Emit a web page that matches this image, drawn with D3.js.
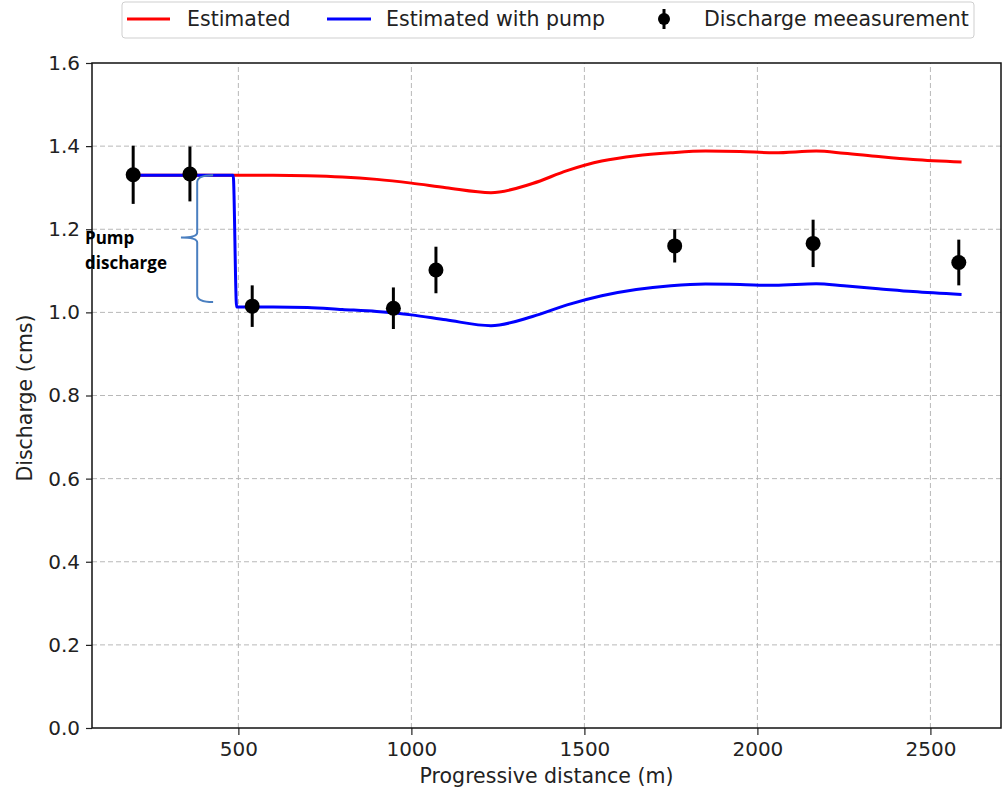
<!DOCTYPE html>
<html>
<head>
<meta charset="utf-8">
<script src="https://cdn.jsdelivr.net/npm/d3@7"></script>
<style>
  body { margin: 0; background: #fff; }
  text { font-family: "DejaVu Sans", sans-serif; fill: #222; }
</style>
</head>
<body>
<div id="chart"></div>
<script>
var width = 1006,
    height = 794,
    margin = { top: 63, right: 5, bottom: 66, left: 92 };

// measured discharge points
var ptDist = [196, 360, 540, 948, 1071, 1761, 2161, 2582];
var ptQ = [1.331, 1.333, 1.015, 1.010, 1.102, 1.160, 1.166, 1.120];
var ptErr = [0.070, 0.066, 0.050, 0.050, 0.056, 0.040, 0.057, 0.055];

// estimated discharge
var estDist = [196, 300, 400, 500, 600, 700, 800, 900, 1000, 1100, 1230, 1350, 1450, 1550, 1650, 1750, 1850, 1950, 2050, 2170, 2250, 2350, 2450, 2590];
var estQ = [1.330, 1.330, 1.330, 1.330, 1.330, 1.329, 1.326, 1.320, 1.311, 1.300, 1.288, 1.310, 1.341, 1.364, 1.377, 1.384, 1.388, 1.387, 1.384, 1.388, 1.383, 1.375, 1.368, 1.362];

// estimated with pump
var pumpDist = [196, 485, 495, 600, 700, 800, 900, 1000, 1100, 1230, 1350, 1450, 1550, 1650, 1750, 1850, 1950, 2050, 2170, 2250, 2350, 2450, 2590];
var pumpQ = [1.330, 1.330, 1.013, 1.013, 1.012, 1.007, 1.002, 0.994, 0.982, 0.968, 0.990, 1.018, 1.040, 1.055, 1.064, 1.068, 1.067, 1.065, 1.069, 1.064, 1.057, 1.050, 1.043];

var xTicks = [500, 1000, 1500, 2000, 2500];
var yTicks = [0.0, 0.2, 0.4, 0.6, 0.8, 1.0, 1.2, 1.4, 1.6];

var legendNames = ["Estimated", "Estimated with pump", "Discharge meeasurement"];

// brace annotation (data units)
var braceTop = 1.33, braceBottom = 1.025, braceMid = 1.18;
var braceX = 381, braceEndX = 427, braceTipX = 334;

var svg = d3.select("#chart")
    .append("svg")
    .attr("width", width)
    .attr("height", height);

var x = d3.scaleLinear()
    .domain([77, 2704])
    .range([margin.left, width - margin.right]);

var y = d3.scaleLinear()
    .domain([0, 1.6])
    .range([height - margin.bottom, margin.top]);

// grid
svg.append("g")
    .selectAll("line")
    .data(xTicks)
    .enter()
    .append("line")
    .attr("x1", d => x(d)).attr("x2", d => x(d))
    .attr("y1", y(0)).attr("y2", y(1.6))
    .style("stroke", "#b8b8b8")
    .style("stroke-dasharray", "5,3");

svg.append("g")
    .selectAll("line")
    .data(yTicks.filter(d => d > 0 && d < 1.6))
    .enter()
    .append("line")
    .attr("x1", x.range()[0]).attr("x2", x.range()[1])
    .attr("y1", d => y(d)).attr("y2", d => y(d))
    .style("stroke", "#b8b8b8")
    .style("stroke-dasharray", "5,3");

// axes
var xAxis = d3.axisBottom(x)
    .tickValues(xTicks)
    .tickSize(7)
    .tickPadding(7)
    .tickFormat(d3.format("d"));

var yAxis = d3.axisLeft(y)
    .tickValues(yTicks)
    .tickSize(6)
    .tickPadding(6)
    .tickFormat(d3.format(".1f"));

var gx = svg.append("g")
    .attr("transform", `translate(0, ${height - margin.bottom})`)
    .call(xAxis);

var gy = svg.append("g")
    .attr("transform", `translate(${margin.left}, 0)`)
    .call(yAxis);

[gx, gy].forEach(function (g) {
    g.select(".domain").remove();
    g.selectAll(".tick line").style("stroke", "#222").style("stroke-width", 1.2);
    g.selectAll(".tick text")
        .style("font-family", "DejaVu Sans, sans-serif")
        .style("font-size", "20px")
        .style("fill", "#222");
});

// frame
svg.append("rect")
    .attr("x", x.range()[0])
    .attr("y", y.range()[1])
    .attr("width", x.range()[1] - x.range()[0])
    .attr("height", y.range()[0] - y.range()[1])
    .style("fill", "none")
    .style("stroke", "#111")
    .style("stroke-width", 1.5);

// lines
var line = d3.line()
    .x(d => x(d[0]))
    .y(d => y(d[1]))
    .curve(d3.curveMonotoneX);

svg.append("path")
    .datum(d3.zip(estDist, estQ))
    .attr("d", line)
    .style("fill", "none")
    .style("stroke", "#ff0000")
    .style("stroke-width", 3);

svg.append("path")
    .datum(d3.zip(pumpDist, pumpQ))
    .attr("d", line)
    .style("fill", "none")
    .style("stroke", "#0000ff")
    .style("stroke-width", 3);

// error bars + points
var pts = d3.range(ptDist.length).map(i => ({ d: ptDist[i], q: ptQ[i], e: ptErr[i] }));

svg.append("g")
    .selectAll("line")
    .data(pts)
    .enter()
    .append("line")
    .attr("x1", d => x(d.d)).attr("x2", d => x(d.d))
    .attr("y1", d => y(d.q - d.e)).attr("y2", d => y(d.q + d.e))
    .style("stroke", "#000")
    .style("stroke-width", 3);

svg.append("g")
    .selectAll("circle")
    .data(pts)
    .enter()
    .append("circle")
    .attr("cx", d => x(d.d))
    .attr("cy", d => y(d.q))
    .attr("r", 7.5)
    .style("fill", "#000");

// brace annotation
var bx = x(braceX), bEnd = x(braceEndX), bTip = x(braceTipX);
var bTop = y(braceTop), bBot = y(braceBottom), bMid = y(braceMid);
var brace = d3.path();
brace.moveTo(bEnd, bTop);
brace.quadraticCurveTo(bx, bTop, bx, bTop + 7);
brace.lineTo(bx, bMid - 5);
brace.quadraticCurveTo(bx, bMid, bTip, bMid);
brace.quadraticCurveTo(bx, bMid, bx, bMid + 5);
brace.lineTo(bx, bBot - 7);
brace.quadraticCurveTo(bx, bBot, bEnd, bBot);

svg.append("path")
    .attr("d", brace.toString())
    .style("fill", "none")
    .style("stroke", "#4a7fc0")
    .style("stroke-width", 2);

var note = svg.append("text")
    .style("font-family", "Open Sans, sans-serif")
    .style("font-weight", "bold")
    .style("font-size", "17px")
    .style("fill", "#000");
note.append("tspan").attr("x", 85).attr("y", 244).text("Pump");
note.append("tspan").attr("x", 85).attr("y", 269).text("discharge");

// axis labels
svg.append("text")
    .attr("x", (x.range()[0] + x.range()[1]) / 2)
    .attr("y", 783)
    .style("text-anchor", "middle")
    .style("font-size", "20.5px")
    .text("Progressive distance (m)");

svg.append("text")
    .attr("transform", "rotate(-90)")
    .attr("x", -398)
    .attr("y", 32)
    .style("text-anchor", "middle")
    .style("font-size", "20.5px")
    .text("Discharge (cms)");

// legend
var lg = svg.append("g");
lg.append("rect")
    .attr("x", 122).attr("y", 2)
    .attr("width", 852).attr("height", 36)
    .attr("rx", 3)
    .style("fill", "#fff")
    .style("stroke", "#cfcfcf");

var legendX = [127, 327, 664];
var legendTextX = [187, 386, 704];
var legendY = 19;

lg.append("line").attr("x1", legendX[0]).attr("x2", legendX[0] + 43)
    .attr("y1", legendY).attr("y2", legendY)
    .style("stroke", "#ff0000").style("stroke-width", 3);
lg.append("line").attr("x1", legendX[1]).attr("x2", legendX[1] + 44)
    .attr("y1", legendY).attr("y2", legendY)
    .style("stroke", "#0000ff").style("stroke-width", 3);
lg.append("line").attr("x1", legendX[2]).attr("x2", legendX[2])
    .attr("y1", legendY - 10).attr("y2", legendY + 10)
    .style("stroke", "#000").style("stroke-width", 3);
lg.append("circle").attr("cx", legendX[2]).attr("cy", legendY).attr("r", 6)
    .style("fill", "#000");

lg.selectAll("text.lbl")
    .data(legendNames)
    .enter()
    .append("text")
    .attr("class", "lbl")
    .attr("x", (d, i) => legendTextX[i])
    .attr("y", legendY + 7)
    .style("font-size", "20.5px")
    .text(d => d);
</script>
</body>
</html>
